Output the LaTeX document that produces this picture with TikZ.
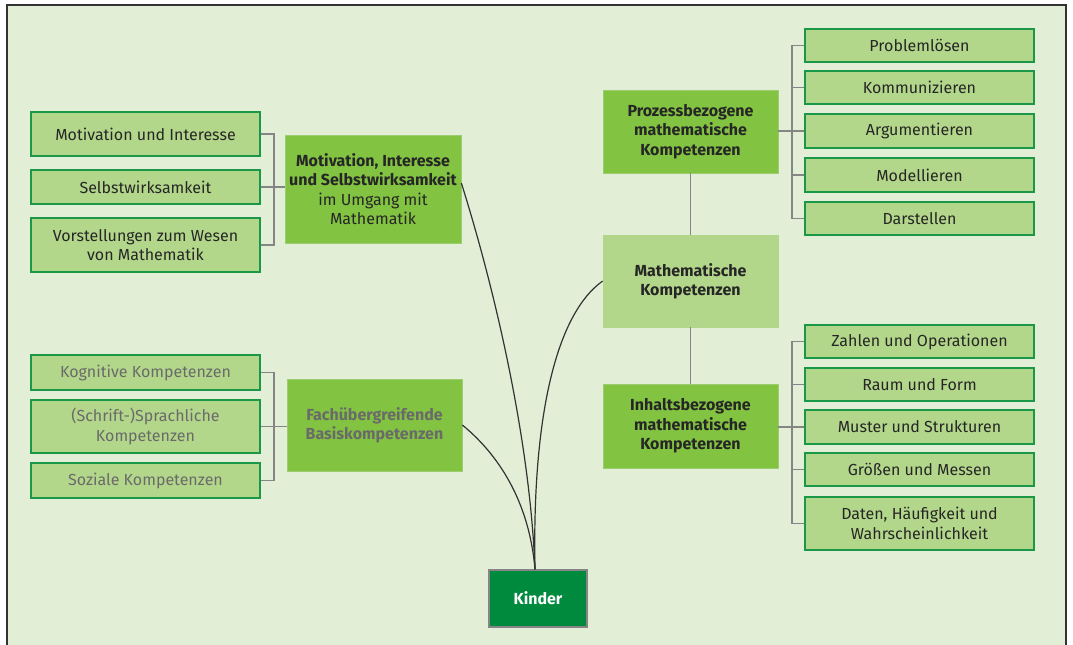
\documentclass[tikz,border=0pt]{standalone}
\usepackage{fontspec}
\setmainfont{Fira Sans}
\usetikzlibrary{calc}
\definecolor{bg}{HTML}{E2EED6}
\definecolor{lightg}{HTML}{B3D78A}
\definecolor{midg}{HTML}{82C341}
\definecolor{edgeg}{HTML}{1A9848}
\definecolor{softedge}{HTML}{9CCE70}
\definecolor{darkg}{HTML}{008A3E}
\definecolor{txt}{HTML}{262626}
\definecolor{graytxt}{HTML}{6A6A6A}
\definecolor{brc}{HTML}{858585}
\definecolor{frame}{HTML}{333333}
\tikzset{
  every node/.style={font=\fontsize{12}{14.5}\selectfont, text=txt, align=center, inner sep=2pt},
  leaf/.style={draw=edgeg, line width=1.6pt, fill=lightg, minimum width=171.5pt},
  hub/.style={draw=softedge, line width=0.5pt, fill=midg},
  hubl/.style={draw=lightg, line width=0.5pt, fill=lightg},
  bfnode/.style={font=\fontsize{12}{14.5}\selectfont\bfseries},
  br/.style={draw=brc, line width=1.1pt},
  cv/.style={draw=frame, line width=0.9pt},
}
\begin{document}
\begin{tikzpicture}[x=0.75pt,y=-0.75pt]
\useasboundingbox (0,0) rectangle (1073,645);
\fill[bg] (7,5) rectangle (1066,645);
\draw[frame, line width=1.5pt] (7,645) -- (7,5) -- (1066,5) -- (1066,645);

% left upper group
\node[leaf, minimum height=33pt] (mi) at (145.5,134) {Motivation und Interesse};
\node[leaf, minimum height=25.5pt] (sw) at (145.5,187) {Selbstwirksamkeit};
\node[leaf, minimum height=40.5pt] (vz) at (145.5,245) {Vorstellungen zum Wesen\\von Mathematik};
\node[hub, minimum width=132pt, minimum height=81pt] (mot) at (373,189) {\textbf{Motivation, Interesse}\\\textbf{und Selbstwirksamkeit}\\im Umgang mit\\Mathematik};

% left lower group
\node[leaf, minimum height=26.25pt, text=graytxt] (kog) at (145.5,372.5) {Kognitive Kompetenzen};
\node[leaf, minimum height=39.75pt, text=graytxt] (spr) at (145.5,426.5) {(Schrift-)Sprachliche\\Kompetenzen};
\node[leaf, minimum height=26.25pt, text=graytxt] (soz) at (145.5,480.5) {Soziale Kompetenzen};
\node[hub, bfnode, minimum width=131.25pt, minimum height=69pt, text=graytxt] (fach) at (374.5,425) {Fachübergreifende\\Basiskompetenzen};

% center column
\node[hub, bfnode, minimum width=131.25pt, minimum height=62.25pt] (proz) at (690.5,131.5) {Prozessbezogene\\mathematische\\Kompetenzen};
\node[hubl, bfnode, minimum width=131.25pt, minimum height=69pt] (math) at (690.5,281) {Mathematische\\Kompetenzen};
\node[hub, bfnode, minimum width=131.25pt, minimum height=63pt] (inh) at (690.5,426) {Inhaltsbezogene\\mathematische\\Kompetenzen};

% right upper group
\node[leaf, minimum height=24.75pt] (pl) at (919.5,45.5) {Problemlösen};
\node[leaf, minimum height=24.75pt] (ko) at (919.5,87.5) {Kommunizieren};
\node[leaf, minimum height=25.5pt] (ar) at (919.5,131) {Argumentieren};
\node[leaf, minimum height=25.5pt] (mo) at (919.5,175) {Modellieren};
\node[leaf, minimum height=24.75pt] (da) at (919.5,218.5) {Darstellen};

% right lower group
\node[leaf, minimum height=24.75pt] (za) at (919.5,341.5) {Zahlen und Operationen};
\node[leaf, minimum height=24.75pt] (ra) at (919.5,384.5) {Raum und Form};
\node[leaf, minimum height=25.5pt] (mu) at (919.5,427) {Muster und Strukturen};
\node[leaf, minimum height=24.75pt] (gr) at (919.5,469.5) {Größen und Messen};
\node[leaf, minimum height=39.75pt] (dh) at (919.5,523.5) {Daten, Häufigkeit und\\Wahrscheinlichkeit};

% Kinder
\node[draw=brc, line width=0.8pt, fill=darkg, text=white, bfnode, minimum width=73.5pt, minimum height=42.75pt] (kin) at (538,598.5) {Kinder};

% brackets
\coordinate (lb1) at (274,188);
\coordinate (lb2) at (274,427);
\coordinate (rb) at (792,131);
\draw[br] (mi.east) -| (lb1) |- (vz.east);
\draw[br] (sw.east) -- (sw.east -| mot.west);
\draw[br] (kog.east) -| (lb2) |- (soz.east);
\draw[br] (spr.east) -- (spr.east -| fach.west);

\draw[br] (pl.west) -| (rb) |- (da.west);
\draw[br] (ko.west) -- (ko.west -| rb);
\draw[br] (mo.west) -- (mo.west -| rb);
\draw[br] (proz.east) -- (proz.east |- ar.west) -- (ar.west);

\draw[br] (za.west) -- (za.west -| rb) |- (dh.west);
\draw[br] (ra.west) -- (ra.west -| rb);
\draw[br] (gr.west) -- (gr.west -| rb);
\draw[br] (inh.east |- mu.west) -- (mu.west);

\draw[br] (proz.south) -- (math.north);
\draw[br] (math.south) -- (inh.north);

% curves to Kinder
\coordinate (kt) at ($(kin.north)+(-3,0)$);
\draw[cv] ($(mot.east)+(0,-6)$) .. controls (495,290) and (530,440) .. (kt);
\draw[cv] (fach.east) .. controls (505,460) and (530,510) .. (kt);
\draw[cv] (math.west) .. controls (555,315) and (532,420) .. (kt);
\end{tikzpicture}
\end{document}
